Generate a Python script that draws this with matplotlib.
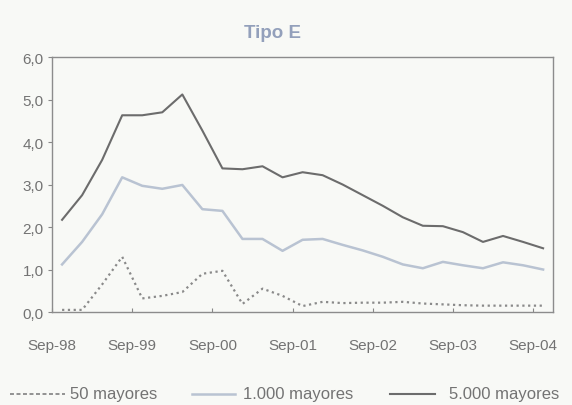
import numpy as np
import matplotlib
matplotlib.use("Agg")
import matplotlib.pyplot as plt
from matplotlib.lines import Line2D

# quarterly observations, Sep-98 .. Sep-04
top50 = [0.05, 0.05, 0.65, 1.30, 0.32, 0.38, 0.47, 0.90, 0.97, 0.19,
         0.55, 0.38, 0.14, 0.24, 0.21, 0.22, 0.22, 0.24, 0.20, 0.18,
         0.16, 0.15, 0.15, 0.15, 0.15]
top1000 = [1.12, 1.65, 2.30, 3.17, 2.97, 2.90, 2.99, 2.42, 2.38, 1.72,
           1.72, 1.44, 1.70, 1.72, 1.58, 1.45, 1.30, 1.12, 1.03, 1.18,
           1.10, 1.03, 1.17, 1.10, 1.00]
top5000 = [2.17, 2.75, 3.58, 4.63, 4.63, 4.70, 5.12, 4.27, 3.38, 3.36,
           3.43, 3.17, 3.29, 3.22, 3.00, 2.75, 2.50, 2.23, 2.03, 2.02,
           1.88, 1.65, 1.79, 1.65, 1.50]
tick_labels = ["Sep-98", "Sep-99", "Sep-00", "Sep-01", "Sep-02", "Sep-03", "Sep-04"]
y_ticks = [0, 1, 2, 3, 4, 5, 6]
series_names = ["50 mayores", "1.000 mayores", "5.000 mayores"]

font = ["Liberation Sans", "DejaVu Sans"]
txt = "#737373"
bg = "#f8f9f6"
c50, c1000, c5000 = "#8a8a8a", "#b9c3d2", "#6c6c6c"

W, H = 572, 406
fig = plt.figure(figsize=(W / 100, H / 100), dpi=100, facecolor=bg)
ax = fig.add_axes([0.091, 0.229, 0.876, 0.628], facecolor=bg)

x = np.arange(len(top5000))
ax.plot(x, top50, color=c50, lw=1.6, ls=(0, (1, 1.6)))
ax.plot(x, top1000, color=c1000, lw=1.8)
ax.plot(x, top5000, color=c5000, lw=1.5)

ax.set_xlim(-0.5, 24.5)
ax.set_ylim(0, 6)
ax.set_xticks([-0.5 + 4 * i for i in range(len(tick_labels))])
ax.set_xticklabels(tick_labels)
ax.set_yticks(y_ticks)
ax.set_yticklabels([f"{v},0" for v in y_ticks])
ax.tick_params(axis="x", direction="in", length=3, color="#888888", pad=19,
               labelsize=11, labelcolor=txt)
ax.tick_params(axis="y", direction="out", length=3, color="#888888", pad=3,
               labelsize=11, labelcolor=txt)
for lab in ax.get_xticklabels() + ax.get_yticklabels():
    lab.set_family(font)
for s in ax.spines.values():
    s.set_color("#8c8c8c")
    s.set_linewidth(1.0)

fig.text(273 / W, 1 - 33 / H, "Tipo E", ha="center", va="center", fontsize=13.5,
         fontweight="bold", color="#93a0bb", family=font)

# legend, laid out by hand like the original
ly = 1 - 395 / H
legend_items = [
    (c50, (0, (2.2, 1.4)), 1.3, 10, 65, 70),
    (c1000, "-", 1.8, 192, 235, 243),
    (c5000, "-", 1.5, 390, 435, 449),
]
for (col, ls, lw, x0, x1, tx), name in zip(legend_items, series_names):
    fig.add_artist(Line2D([x0 / W, x1 / W], [ly, ly], color=col, ls=ls, lw=lw,
                          transform=fig.transFigure))
    fig.text(tx / W, ly, name, ha="left", va="center", fontsize=12,
             color=txt, family=font)

fig.savefig("out.png", dpi=100, facecolor=bg)
